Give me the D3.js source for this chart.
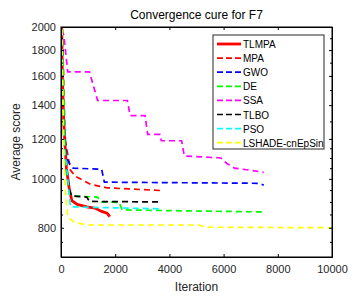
<!DOCTYPE html>
<html>
<head>
<meta charset="utf-8">
<script src="https://cdn.jsdelivr.net/npm/d3@7"></script>
<style>
body { margin: 0; background: #fff; }
text { font-family: "Liberation Sans", Arial, sans-serif; }
</style>
</head>
<body>
<script>
// [iteration, average score] per algorithm
var tlmpa = [[0,2600],[50,1600],[100,1300],[200,1050],[300,960],[400,905],[600,890],[950,880],[1250,875],[1500,862],[1700,855],[1800,842]];
var mpa = [[0,2600],[150,1200],[350,1040],[550,1010],[1100,975],[1700,960],[2500,955],[3700,948]];
var gwo = [[0,2600],[100,1300],[200,1100],[350,1065],[450,1050],[1500,1045],[1600,985],[7300,980],[7480,972]];
var de = [[0,2600],[150,1150],[300,935],[400,925],[1350,920],[1450,900],[2150,898],[2250,868],[4000,865],[7480,860]];
var ssa = [[0,2600],[30,1960],[100,1930],[250,1630],[1050,1630],[1150,1560],[1350,1430],[2450,1430],[2550,1335],[3100,1335],[3200,1225],[3650,1225],[3700,1190],[4450,1190],[4550,1110],[5900,1100],[6100,1075],[6400,1050],[7000,1040],[7480,1030]];
var tlbo = [[0,2600],[100,1200],[300,950],[400,925],[950,920],[1050,902],[3700,900]];
var pso = [[0,2600],[100,1200],[250,1000],[350,880],[3700,872]];
var lshade = [[0,2600],[80,1300],[150,960],[250,840],[500,820],[1000,810],[5100,810],[5300,802],[10000,800]];

var names = ["TLMPA", "MPA", "GWO", "DE", "SSA", "TLBO", "PSO", "LSHADE-cnEpSin"];
var colors = ["#ff0000", "#ff0000", "#0000ff", "#00ff00", "#ff00ff", "#000000", "#00ffff", "#ffff00"];
var seriesData = [tlmpa, mpa, gwo, de, ssa, tlbo, pso, lshade];

var xTicks = [0, 2000, 4000, 6000, 8000, 10000];
var yTicks = [800, 1000, 1200, 1400, 1600, 1800, 2000];
var yMinor = [750, 850, 900, 950, 1050, 1100, 1150, 1300, 1500, 1700, 1900];

var w = 355, h = 297;
var mLeft = 61, mRight = 332, mTop = 27, mBottom = 257;

var x = d3.scaleLinear().domain([0, 10000]).range([mLeft, mRight]);
var y = d3.scaleLog().domain([700, 2000]).range([mBottom, mTop]);

var svg = d3.select("body").append("svg")
    .attr("width", w)
    .attr("height", h);

svg.append("defs").append("clipPath").attr("id", "plot")
    .append("rect")
    .attr("x", mLeft).attr("y", mTop)
    .attr("width", mRight - mLeft).attr("height", mBottom - mTop);

//lines
var line = d3.line()
    .x(function(d) { return x(d[0]); })
    .y(function(d) { return y(d[1]); });

svg.append("g").attr("clip-path", "url(#plot)")
    .selectAll("path")
    .data(seriesData)
    .enter()
    .append("path")
    .attr("fill", "none")
    .attr("stroke", function(d, i) { return colors[i]; })
    .attr("stroke-width", function(d, i) { return i == 0 ? 2.8 : 1.7; })
    .attr("stroke-dasharray", function(d, i) { return i == 0 ? null : "6,4"; })
    .attr("d", line);

//axes, ticks inward on all four sides
var tl = 3;
svg.append("g")
    .attr("transform", "translate(0," + mBottom + ")")
    .call(d3.axisBottom(x).tickValues(xTicks).tickSizeInner(-tl).tickSizeOuter(0).tickPadding(8).tickFormat(d3.format("d")));
svg.append("g")
    .attr("transform", "translate(0," + mTop + ")")
    .call(d3.axisTop(x).tickValues(xTicks).tickSizeInner(-tl).tickSizeOuter(0).tickFormat(""));
svg.append("g")
    .attr("transform", "translate(" + mLeft + ",0)")
    .call(d3.axisLeft(y).tickValues(yTicks).tickSizeInner(-tl).tickSizeOuter(0).tickPadding(5).tickFormat(d3.format("d")));
svg.append("g")
    .attr("transform", "translate(" + mRight + ",0)")
    .call(d3.axisRight(y).tickValues(yTicks).tickSizeInner(-tl).tickSizeOuter(0).tickFormat(""));
svg.append("g")
    .attr("transform", "translate(" + mLeft + ",0)")
    .call(d3.axisLeft(y).tickValues(yMinor).tickSizeInner(-2).tickSizeOuter(0).tickFormat(""));
svg.append("g")
    .attr("transform", "translate(" + mRight + ",0)")
    .call(d3.axisRight(y).tickValues(yMinor).tickSizeInner(-2).tickSizeOuter(0).tickFormat(""));

svg.selectAll(".domain").attr("stroke", "#000");
svg.selectAll(".tick text").attr("font-size", 11).attr("fill", "#262626")
    .style("font-family", "'Liberation Sans', Arial, sans-serif");

// box
svg.append("rect")
    .attr("x", mLeft).attr("y", mTop)
    .attr("width", mRight - mLeft).attr("height", mBottom - mTop)
    .attr("fill", "none").attr("stroke", "#000");

//titles
svg.append("text")
    .attr("x", (mLeft + mRight) / 2).attr("y", 19)
    .attr("text-anchor", "middle").attr("font-size", 12).attr("fill", "#000")
    .text("Convergence cure for F7");
svg.append("text")
    .attr("x", (mLeft + mRight) / 2).attr("y", 291)
    .attr("text-anchor", "middle").attr("font-size", 12).attr("fill", "#262626")
    .text("Iteration");
svg.append("text")
    .attr("transform", "translate(20," + (mTop + mBottom) / 2 + ") rotate(-90)")
    .attr("text-anchor", "middle").attr("font-size", 12).attr("fill", "#262626")
    .text("Average score");

//legend
var lg = svg.append("g").attr("transform", "translate(213,35)");
lg.append("rect")
    .attr("width", 111).attr("height", 114)
    .attr("fill", "#fff").attr("stroke", "#262626");
var items = lg.selectAll("g.item")
    .data(names)
    .enter()
    .append("g")
    .attr("class", "item")
    .attr("transform", function(d, i) { return "translate(0," + (9 + i * 14.1) + ")"; });
items.append("line")
    .attr("x1", 4).attr("x2", 28)
    .attr("stroke", function(d, i) { return colors[i]; })
    .attr("stroke-width", function(d, i) { return i == 0 ? 2.8 : 1.7; })
    .attr("stroke-dasharray", function(d, i) { return i == 0 ? null : "6,3"; });
items.append("text")
    .attr("x", 30).attr("y", 4)
    .attr("font-size", 10).attr("fill", "#000")
    .text(function(d) { return d; });
</script>
</body>
</html>
